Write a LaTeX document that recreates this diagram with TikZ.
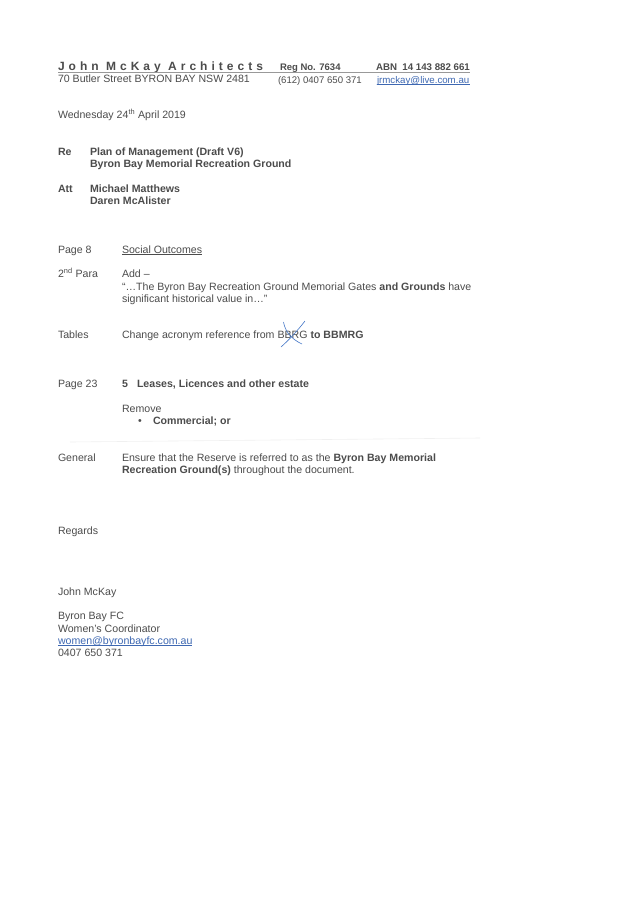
\documentclass[tikz,border=0pt]{standalone}
\usepackage{fontspec}
\setmainfont{Liberation Sans}
\definecolor{inkgrey}{gray}{0.30}
\definecolor{linkblue}{RGB}{62,104,178}
\definecolor{penblue}{RGB}{70,120,200}
\tikzset{
  txt/.style={anchor=base west, inner sep=0pt, outer sep=0pt, text=inkgrey, font=\fontsize{10.6}{12}\selectfont},
  bld/.style={txt, font=\fontsize{10.6}{12}\selectfont\bfseries},
  lnk/.style={txt, text=linkblue}
}
\begin{document}
\begin{tikzpicture}[x=1pt,y=-1pt]
      \useasboundingbox[fill=white] (0,0) rectangle (638,900);

      \node[bld, font=\fontsize{12}{12}\selectfont\bfseries] (firm) at (58,70) {\addfontfeature{LetterSpace=33.5}John McKay Architects};
      \node[bld, font=\fontsize{9.5}{12}\selectfont\bfseries] (regno) at (280,70.5) {Reg No. 7634};
      \node[bld, font=\fontsize{9.7}{12}\selectfont\bfseries] (abn) at (376,70.5) {ABN\ \ 14 143 882 661};
      \draw[gray!80, line width=1pt] (58,72) -- (470,72);

      \node[txt] (street) at (58,82) {70 Butler Street BYRON BAY NSW 2481};
      \node[txt, font=\fontsize{9.6}{12}\selectfont] (phone) at (278,83) {(612) 0407 650 371};
      \node[lnk, font=\fontsize{9.7}{12}\selectfont] (mail) at (377,83) {jrmckay@live.com.au};
      \draw[linkblue, line width=.4pt] (377,84.5) -- (470,84.5);

      \node[txt] (date) at (58,118) {Wednesday 24\textsuperscript{th} April 2019};

      \node[bld] (re) at (58,155) {Re};
      \node[bld] (plan) at (90,155) {Plan of Management (Draft V6)};
      \node[bld] (ground) at (90,167) {Byron Bay Memorial Recreation Ground};

      \node[bld] (att) at (58,192) {Att};
      \node[bld] (michael) at (90,192) {Michael Matthews};
      \node[bld] (daren) at (90,204) {Daren McAlister};

      \node[txt] (page8) at (58,253) {Page 8};
      \node[txt] (social) at (122,253) {Social Outcomes};
      \draw[inkgrey, line width=.4pt] (122,254.5) -- (202,254.5);

      \node[txt] (para) at (58,277) {2\textsuperscript{nd} Para};
      \node[txt] (add) at (122,277) {Add --};
      \node[txt] (quote) at (122,290) {``\ldots The Byron Bay Recreation Ground Memorial Gates \textbf{and Grounds} have};
      \node[txt] (value) at (122,302) {significant historical value in\ldots''};

      \node[txt] (tables) at (58,338) {Tables};
      \node[txt] (change) at (122,338) {Change acronym reference from BBRG \textbf{to BBMRG}};
      \draw[penblue, line width=.6pt] (283.5,322) .. controls (285,331) and (291,339) .. (302,344);
      \draw[penblue, line width=.6pt] (305,321) .. controls (298,330) and (290,339) .. (281,347);

      \node[txt] (page23) at (58,387) {Page 23};
      \node[bld] (five) at (122,387) {5};
      \node[bld] (leases) at (137,387) {Leases, Licences and other estate};

      \node[txt] (remove) at (122,412) {Remove};
      \node[txt] (bullet) at (138,424) {\textbullet};
      \node[bld] (commercial) at (153,424) {Commercial; or};

      \draw[gray!12, line width=.6pt] (70,442) -- (480,438);

      \node[txt] (general) at (58,461) {General};
      \node[txt] (ensure) at (122,461) {Ensure that the Reserve is referred to as the \textbf{Byron Bay Memorial}};
      \node[txt] (through) at (122,473) {\textbf{Recreation Ground(s)} throughout the document.};

      \node[txt] (regards) at (58,534) {Regards};
      \node[txt] (john) at (58,595) {John McKay};
      \node[txt] (club) at (58,619) {Byron Bay FC};
      \node[txt] (coord) at (58,632) {Women's Coordinator};
      \node[lnk] (women) at (58,644) {women@byronbayfc.com.au};
      \draw[linkblue, line width=.4pt] (58,645.5) -- (192,645.5);
      \node[txt] (mobile) at (58,656) {0407 650 371};
    \end{tikzpicture}
\end{document}
